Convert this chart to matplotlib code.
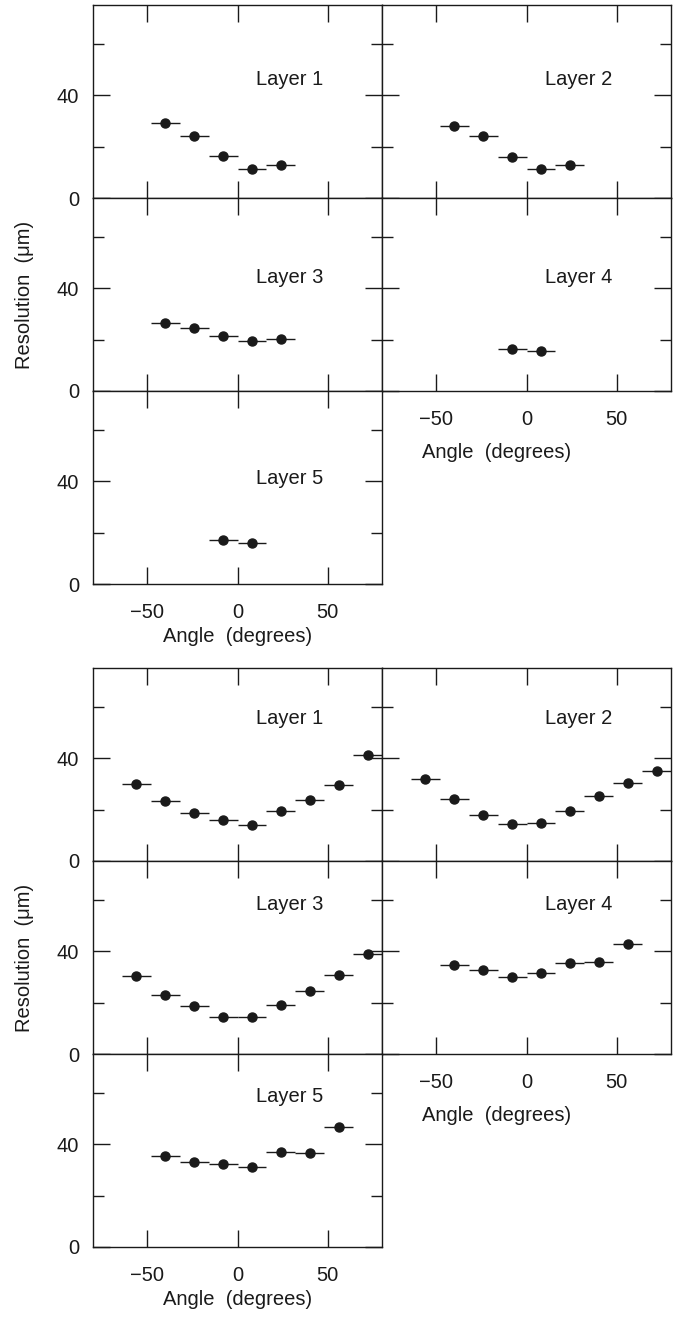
import numpy as np
import matplotlib
matplotlib.use("Agg")
import matplotlib.pyplot as plt
from matplotlib.ticker import MultipleLocator

plt.rcParams['font.family'] = ['Liberation Sans', 'DejaVu Sans']
plt.rcParams['font.size'] = 14.5

# bin centres (degrees) and half-width of the angle bins
top_x = [-40, -24, -8, 8, 24]
top_x_short = [-8, 8]
bot_x = [-56, -40, -24, -8, 8, 24, 40, 56, 72]
bot_x_short = [-40, -24, -8, 8, 24, 40, 56]
bin_half = 8

# upper block: resolution (um) per layer
top_l1 = [29.0, 24.0, 16.2, 11.1, 12.7]
top_l2 = [28.1, 23.9, 15.9, 11.1, 12.9]
top_l3 = [26.4, 24.4, 21.3, 19.3, 20.3]
top_l4 = [16.5, 15.7]
top_l5 = [17.2, 15.9]

# lower block
bot_l1 = [30.1, 23.5, 18.7, 15.8, 14.1, 19.3, 23.6, 29.6, 41.2]
bot_l2 = [31.9, 24.1, 18.0, 14.4, 14.7, 19.6, 25.2, 30.2, 35.0]
bot_l3 = [30.5, 22.8, 18.7, 14.3, 14.3, 19.2, 24.6, 30.6, 38.8]
bot_l4 = [34.7, 32.8, 30.1, 31.5, 35.4, 35.9, 42.9]
bot_l5 = [35.4, 33.2, 32.4, 31.2, 37.0, 36.7, 46.6]

layer_names = ["Layer 1", "Layer 2", "Layer 3", "Layer 4", "Layer 5"]

W, H = 680, 1317
fig = plt.figure(figsize=(W / 100, H / 100), dpi=100)
ink = '#1a1a1a'


def px_axes(x0, y0, x1, y1):
    # axes from pixel box (top-left origin)
    return fig.add_axes([x0 / W, 1 - y1 / H, (x1 - x0) / W, (y1 - y0) / H])


def panel(ax, xs, ys, name, label_y, show_ylab, xlab_pad):
    ax.errorbar(xs, ys, xerr=bin_half, fmt='o', color=ink, ms=6.5,
                elinewidth=1.0, capsize=0, clip_on=True)
    ax.set_xlim(-80, 80)
    ax.set_ylim(0, 75)
    ax.xaxis.set_major_locator(MultipleLocator(50))
    ax.yaxis.set_major_locator(MultipleLocator(40))
    ax.yaxis.set_minor_locator(MultipleLocator(20))
    ax.tick_params(which='both', direction='in', top=True, right=True,
                   color=ink, width=1.0, labelcolor=ink)
    ax.tick_params(which='major', length=12)
    ax.tick_params(which='minor', length=8)
    ax.tick_params(axis='x', pad=13.5)
    ax.tick_params(axis='y', pad=10)
    for s in ax.spines.values():
        s.set_color(ink)
        s.set_linewidth(1.0)
    if not show_ylab:
        ax.set_yticklabels([])
    if xlab_pad is None:
        ax.set_xticklabels([])
    else:
        ax.set_xlabel("Angle  (degrees)", labelpad=xlab_pad, color=ink)
    ax.text(10, label_y, name, ha='left', va='center', color=ink)
    return ax


def block(top, xs_long, xs_short, data, label_ys):
    rh = 193
    lx0, lx1, rx1 = 93, 382, 671
    rows = [top, top + rh, top + 2 * rh, top + 3 * rh]
    boxes = [(lx0, rows[0], lx1, rows[1]), (lx1, rows[0], rx1, rows[1]),
             (lx0, rows[1], lx1, rows[2]), (lx1, rows[1], rx1, rows[2]),
             (lx0, rows[2], lx1, rows[3])]
    pads = [None, None, None, 10, 4]
    for i, (box, ys) in enumerate(zip(boxes, data)):
        ax = px_axes(*box)
        xs = xs_long if len(ys) == len(xs_long) else xs_short
        panel(ax, xs, ys, layer_names[i], label_ys[i],
              show_ylab=(i % 2 == 0), xlab_pad=pads[i])
        if i == 3:
            # label in the right column sits left of centre
            ax.xaxis.label.set_x(0.395)
    fig.text(25 / W, 1 - (rows[1] + rows[2]) / 2 / H, "Resolution  (\u03bcm)",
             rotation=90, ha='center', va='center', color=ink)


block(5, top_x, top_x_short, [top_l1, top_l2, top_l3, top_l4, top_l5],
      [46, 46, 44, 44, 41])
block(668, bot_x, bot_x_short, [bot_l1, bot_l2, bot_l3, bot_l4, bot_l5],
      [55.5, 55.5, 58, 58, 58.5])

fig.savefig("out.png", dpi=100)
